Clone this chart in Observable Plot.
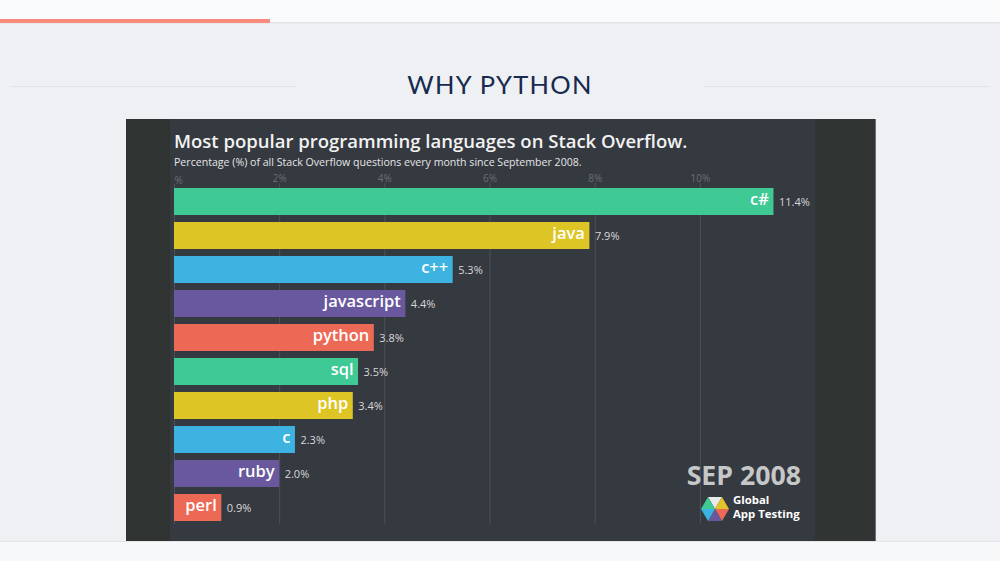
<!DOCTYPE html>
<html>
<head>
<meta charset="utf-8">
<script src="https://cdn.jsdelivr.net/npm/d3@7"></script>
<script src="https://cdn.jsdelivr.net/npm/@observablehq/plot@0.6"></script>
<style>
  html, body { margin: 0; padding: 0; }
  body { width: 1000px; height: 561px; background: #eef0f3; position: relative; overflow: hidden; font-family: "Open Sans", sans-serif; }
  #topbar { position: absolute; left: 0; top: 0; width: 1000px; height: 22px; background: #fafbfc; box-shadow: 0 1px 2px rgba(0,0,0,0.08); }
  #progress { position: absolute; left: 0; top: 19px; width: 270px; height: 4px; background: #f98b7e; }
  #heading { position: absolute; left: 0; top: 69px; width: 1000px; text-align: center; font-family: Lato, sans-serif; font-size: 25.5px; letter-spacing: 1.3px; color: #172a4f; }
  .hline { position: absolute; top: 86px; height: 1px; background: #e2e4e8; }
  #footer { position: absolute; left: 0; top: 541px; width: 1000px; height: 20px; background: #f7f8fa; border-top: 1px solid #e3e5e9; }
  #panel { position: absolute; left: 126px; top: 119px; width: 750px; height: 422px; background: #353940; overflow: hidden; }
  #lstrip { position: absolute; left: 0; top: 0; width: 44px; height: 422px; background: #2f3433; }
  #rstrip { position: absolute; left: 689px; top: 0; width: 61px; height: 422px; background: #303534; border-right: 1px solid #6b6f72; box-sizing: border-box; }
  #chart { position: absolute; left: 0; top: 0; }
  #title { position: absolute; left: 48px; top: 9px; color: #f2f2f2; font-size: 18.5px; font-weight: 600; white-space: nowrap; }
  #subtitle { position: absolute; left: 48px; top: 36px; color: #e6e6e6; font-size: 10.6px; white-space: nowrap; }
  #date { position: absolute; right: 75px; top: 337px; color: #c6c7c8; font-size: 26.7px; font-weight: 700; white-space: nowrap; }
  #logo { position: absolute; left: 574px; top: 375px; }
  #logotext { position: absolute; left: 607px; top: 374px; color: #ffffff; font-size: 11.4px; font-weight: 700; line-height: 14px; white-space: nowrap; }
</style>
</head>
<body>
<div id="topbar"></div>
<div id="progress"></div>
<div class="hline" style="left:10px;width:287px"></div>
<div class="hline" style="left:703px;width:287px"></div>
<div id="heading">WHY PYTHON</div>
<div id="panel">
  <div id="lstrip"></div>
  <div id="rstrip"></div>
  <div id="chart"></div>
  <div id="title">Most popular programming languages on Stack Overflow.</div>
  <div id="subtitle">Percentage (%) of all Stack Overflow questions every month since September 2008.</div>
  <div id="date">SEP 2008</div>
  <svg id="logo" width="30" height="30" viewBox="-15 -15 30 30"></svg>
  <div id="logotext">Global<br>App Testing</div>
</div>
<div id="footer"></div>
<script>
// ---- data ----
const languages = ["c#", "java", "c++", "javascript", "python", "sql", "php", "c", "ruby", "perl"];
const shares = [11.4, 7.9, 5.3, 4.4, 3.8, 3.5, 3.4, 2.3, 2.0, 0.9];
const tickValues = [2, 4, 6, 8, 10];

// ---- styling ----
const palette = ["#3ec995", "#dec526", "#3cb3e0", "#69589e", "#ec6a55", "#3ec995", "#dec526", "#3cb3e0", "#69589e", "#ec6a55"];

const rows = languages.map((lang, i) => ({lang, value: shares[i]}));

const chart = Plot.plot({
  width: 750,
  height: 422,
  marginLeft: 48,
  marginRight: 71,
  marginTop: 65,
  marginBottom: 17,
  style: {background: "transparent", fontFamily: "Open Sans, sans-serif", overflow: "visible"},
  x: {domain: [0, 12], axis: null, label: null},
  y: {domain: languages, axis: null, paddingInner: 0.22, paddingOuter: 0.11},
  color: {domain: languages, range: palette},
  marks: [
    Plot.gridX([0, ...tickValues], {stroke: "#4c5157", strokeOpacity: 1}),
    Plot.axisX({anchor: "top", label: null, ticks: [0], tickFormat: () => "%", textAnchor: "start", tickSize: 0, tickPadding: 1, fill: "#6a6f75", fontSize: 10}),
    Plot.axisX({anchor: "top", label: null, ticks: tickValues, tickFormat: d => d + "%", tickSize: 2, tickPadding: 1, stroke: "#4c5157", fill: "#6a6f75", fontSize: 10}),
    Plot.barX(rows, {x: "value", y: "lang", fill: "lang"}),
    Plot.text(rows, {x: "value", y: "lang", text: "lang", textAnchor: "end", dx: -5, dy: -2, fill: "#ffffff", fontSize: 16.5, fontWeight: 600}),
    Plot.text(rows, {x: "value", y: "lang", text: d => d.value.toFixed(1) + "%", textAnchor: "start", dx: 5, fill: "#d8d8d8", fontSize: 11})
  ]
});
document.getElementById("chart").appendChild(chart);

// logo hexagon
const logo = d3.select("#logo");
const hexColors = ["#e9e9e9", "#e2c329", "#ec6a55", "#69589e", "#3cb3e0", "#3ec995"];
const r = 14;
for (let i = 0; i < 6; i++) {
  const a0 = (-120 + i * 60) * Math.PI / 180, a1 = (-60 + i * 60) * Math.PI / 180;
  logo.append("path")
    .attr("d", `M0,0L${r * Math.cos(a0)},${r * Math.sin(a0)}L${r * Math.cos(a1)},${r * Math.sin(a1)}Z`)
    .attr("fill", hexColors[i]);
}
</script>
</body>
</html>
